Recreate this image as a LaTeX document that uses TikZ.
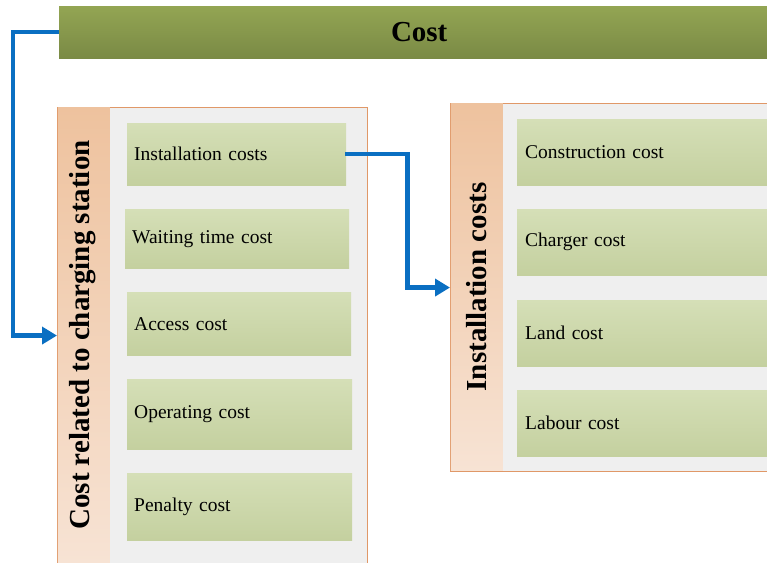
\documentclass[tikz,border=0pt]{standalone}
\usepackage{fontspec}
\setmainfont{Liberation Serif}
\usetikzlibrary{arrows.meta}
\definecolor{barTop}{HTML}{93A553}
\definecolor{barBot}{HTML}{7A8A45}
\definecolor{itemTop}{HTML}{D5DFB7}
\definecolor{itemBot}{HTML}{C4D09F}
\definecolor{stripTop}{HTML}{EEC29E}
\definecolor{stripBot}{HTML}{F7E3D4}
\definecolor{panelFill}{HTML}{EFEFEF}
\definecolor{panelLine}{HTML}{E09868}
\definecolor{connBlue}{HTML}{0A6FC2}
\tikzset{
  bar/.style={rectangle, top color=barTop, bottom color=barBot, draw=none, inner sep=0pt, font=\fontsize{29}{30}\selectfont\bfseries},
  panel/.style={rectangle, fill=panelFill, draw=panelLine, line width=1.1pt, inner sep=0pt, anchor=north west},
  strip/.style={rectangle, top color=stripTop, bottom color=stripBot, draw=none, inner sep=0pt, anchor=north west},
  striplabel/.style={rotate=90, font=\fontsize{29}{30}\selectfont\bfseries, inner sep=0pt},
  item/.style={rectangle, top color=itemTop, bottom color=itemBot, draw=none, anchor=north west, inner xsep=7pt, inner ysep=0pt, align=left, font=\fontsize{19.5}{22}\selectfont},
  conn/.style={draw=connBlue, line width=4.4pt, -{Triangle[length=15pt,width=17pt]}}
}
\begin{document}
\begin{tikzpicture}[x=1pt,y=-1pt]
\useasboundingbox[fill=white] (0,0) rectangle (767,562);
% title bar
\node[bar, minimum width=720pt, minimum height=52pt, anchor=north west] (cost) at (59,6) {Cost};
% left panel
\node[panel, minimum width=310pt, minimum height=456pt] (lp) at (57,107) {};
\node[strip, minimum width=52pt, minimum height=455pt] (ls) at ([shift={(0.55pt,-0.55pt)}]lp.north west) {};
\node[striplabel] (lslab) at (83,335) {Cost related to charging station};
\node[item, text width=205pt, minimum height=62pt] (inst) at (127,123) {Installation costs};
\node[item, text width=210pt, minimum height=59pt] (wait) at (125,209) {Waiting time cost};
\node[item, text width=210pt, minimum height=63pt] (acc) at (127,292) {Access cost};
\node[item, text width=211pt, minimum height=70pt] (oper) at (127,379) {Operating cost};
\node[item, text width=211pt, minimum height=67pt] (pen) at (127,473) {Penalty cost};
% right panel
\node[panel, minimum width=330pt, minimum height=368pt] (rp) at (450,103) {};
\node[strip, minimum width=52pt, minimum height=367pt] (rs) at ([shift={(0.55pt,-0.55pt)}]rp.north west) {};
\node[striplabel] (rslab) at (477,287) {Installation costs};
\node[item, text width=234pt, minimum height=66pt, inner xsep=8pt] (cons) at (517,119) {Construction cost};
\node[item, text width=234pt, minimum height=66pt, inner xsep=8pt] (charg) at (517,209) {Charger cost};
\node[item, text width=234pt, minimum height=66pt, inner xsep=8pt] (land) at (517,300) {Land cost};
\node[item, text width=234pt, minimum height=66pt, inner xsep=8pt] (lab) at (517,390) {Labour cost};
% connectors
\draw[conn] (cost.west) -- ++(-46,0) |- (lp.west);
\draw[conn] ([xshift=-1pt]inst.east) -- ++(62,0) |- (rp.west);
\end{tikzpicture}
\end{document}
